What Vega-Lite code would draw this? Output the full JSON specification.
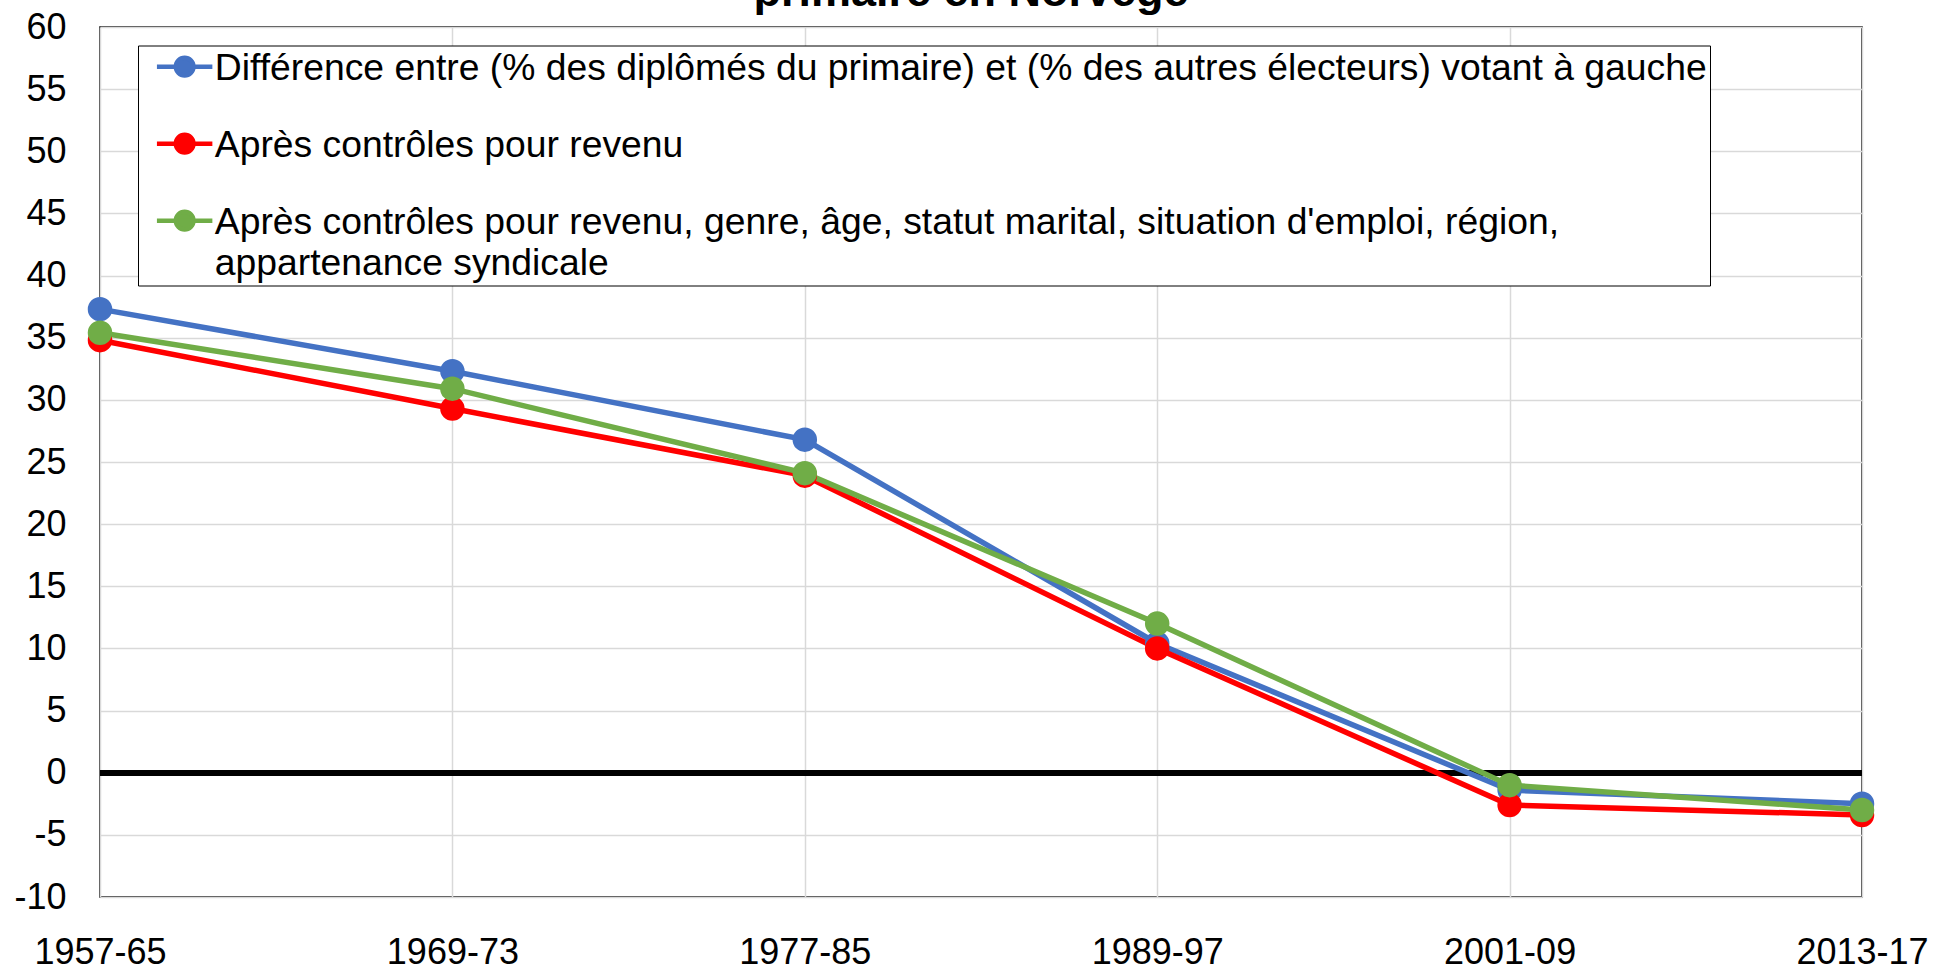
{
  "$schema": "https://vega.github.io/schema/vega-lite/v6.json",
  "width": 1762,
  "height": 870,
  "autosize": {"type": "none"},
  "padding": {"left": 100, "top": 27, "right": 73, "bottom": 73},
  "background": "white",
  "config": {"font": "Liberation Sans", "view": {"stroke": "black", "strokeWidth": 1.5}},
  "title": {"text": "primaire en Norvège", "fontSize": 45, "fontWeight": "bold", "font": "Liberation Sans", "color": "black", "anchor": "middle", "baseline": "alphabetic", "offset": -42, "dx": -10},
  "data": {"values": [
    {"period": "1957-65", "series": "Différence entre (% des diplômés du primaire) et (% des autres électeurs) votant à gauche", "value": 37.3},
    {"period": "1969-73", "series": "Différence entre (% des diplômés du primaire) et (% des autres électeurs) votant à gauche", "value": 32.3},
    {"period": "1977-85", "series": "Différence entre (% des diplômés du primaire) et (% des autres électeurs) votant à gauche", "value": 26.8},
    {"period": "1989-97", "series": "Différence entre (% des diplômés du primaire) et (% des autres électeurs) votant à gauche", "value": 10.4},
    {"period": "2001-09", "series": "Différence entre (% des diplômés du primaire) et (% des autres électeurs) votant à gauche", "value": -1.4},
    {"period": "2013-17", "series": "Différence entre (% des diplômés du primaire) et (% des autres électeurs) votant à gauche", "value": -2.5},
    {"period": "1957-65", "series": "Après contrôles pour revenu", "value": 34.8},
    {"period": "1969-73", "series": "Après contrôles pour revenu", "value": 29.3},
    {"period": "1977-85", "series": "Après contrôles pour revenu", "value": 23.9},
    {"period": "1989-97", "series": "Après contrôles pour revenu", "value": 10.0},
    {"period": "2001-09", "series": "Après contrôles pour revenu", "value": -2.6},
    {"period": "2013-17", "series": "Après contrôles pour revenu", "value": -3.4},
    {"period": "1957-65", "series": "Après contrôles pour revenu, genre, âge, statut marital, situation d'emploi, région, appartenance syndicale", "value": 35.4},
    {"period": "1969-73", "series": "Après contrôles pour revenu, genre, âge, statut marital, situation d'emploi, région, appartenance syndicale", "value": 30.9},
    {"period": "1977-85", "series": "Après contrôles pour revenu, genre, âge, statut marital, situation d'emploi, région, appartenance syndicale", "value": 24.1},
    {"period": "1989-97", "series": "Après contrôles pour revenu, genre, âge, statut marital, situation d'emploi, région, appartenance syndicale", "value": 12.0},
    {"period": "2001-09", "series": "Après contrôles pour revenu, genre, âge, statut marital, situation d'emploi, région, appartenance syndicale", "value": -1.0},
    {"period": "2013-17", "series": "Après contrôles pour revenu, genre, âge, statut marital, situation d'emploi, région, appartenance syndicale", "value": -3.0}
  ]},
  "layer": [
    {
      "mark": {"type": "rule", "color": "black", "strokeWidth": 5},
      "encoding": {"y": {"datum": 0, "type": "quantitative", "scale": {"domain": [-10, 60], "nice": false}}}
    },
    {
      "encoding": {
        "x": {
          "field": "period", "type": "ordinal", "sort": null,
          "scale": {"type": "point", "padding": 0},
          "axis": {"title": null, "labelAngle": 0, "labelFontSize": 36, "labelColor": "black", "labelFont": "Liberation Sans", "ticks": false, "tickSize": 0, "domain": false, "grid": true, "gridColor": "#D9D9D9", "gridWidth": 1.5, "labelPadding": 66, "labelBaseline": "alphabetic"}
        },
        "y": {
          "field": "value", "type": "quantitative",
          "scale": {"domain": [-10, 60], "nice": false},
          "axis": {"title": null, "values": [-10, -5, 0, 5, 10, 15, 20, 25, 30, 35, 40, 45, 50, 55, 60], "labelExpr": "'' + datum.value", "labelFontSize": 36, "labelColor": "black", "labelFont": "Liberation Sans", "ticks": false, "tickSize": 0, "domain": false, "grid": true, "gridColor": "#D9D9D9", "gridWidth": 1.5, "labelPadding": 34, "labelFlush": false, "labelOverlap": false}
        },
        "color": {
          "field": "series", "type": "nominal", "sort": null,
          "scale": {
            "domain": [
              "Différence entre (% des diplômés du primaire) et (% des autres électeurs) votant à gauche",
              "Après contrôles pour revenu",
              "Après contrôles pour revenu, genre, âge, statut marital, situation d'emploi, région, appartenance syndicale"
            ],
            "range": ["#4472C4", "#FF0000", "#70AD47"]
          },
          "legend": {
            "orient": "none", "legendX": 38, "legendY": 18.5, "title": null,
            "labelFontSize": 37.3, "labelFont": "Liberation Sans", "labelColor": "black", "labelLimit": 3000,
            "labelBaseline": "alphabetic", "labelOffset": 11.5,
            "symbolType": "M-2.52,0L2.52,0M-0.8,0A0.8,0.8,0,1,1,0.8,0A0.8,0.8,0,1,1,-0.8,0Z",
            "symbolSize": 484, "symbolStrokeWidth": 4.5, "symbolOffset": 25.5,
            "padding": 2.5, "rowPadding": 38,
            "strokeColor": "black", "fillColor": "white",
            "labelExpr": "datum.label == \"Après contrôles pour revenu, genre, âge, statut marital, situation d'emploi, région, appartenance syndicale\" ? [\"Après contrôles pour revenu, genre, âge, statut marital, situation d'emploi, région,\", \"appartenance syndicale\"] : datum.label == \"Après contrôles pour revenu\" ? datum.label : datum.label + '\u00a0'",
            "encode": {
              "labels": {"update": {"dy": {"value": 13}, "lineHeight": {"value": 41.5}}},
              "symbols": {"update": {"fill": {"scale": "color", "field": "value"}, "stroke": {"scale": "color", "field": "value"}, "opacity": {"value": 1}, "strokeWidth": {"value": 4.5}}}
            }
          }
        }
      },
      "layer": [
        {"mark": {"type": "line", "strokeWidth": 5.5}},
        {"mark": {"type": "point", "filled": true, "size": 600, "opacity": 1}}
      ]
    }
  ]
}
